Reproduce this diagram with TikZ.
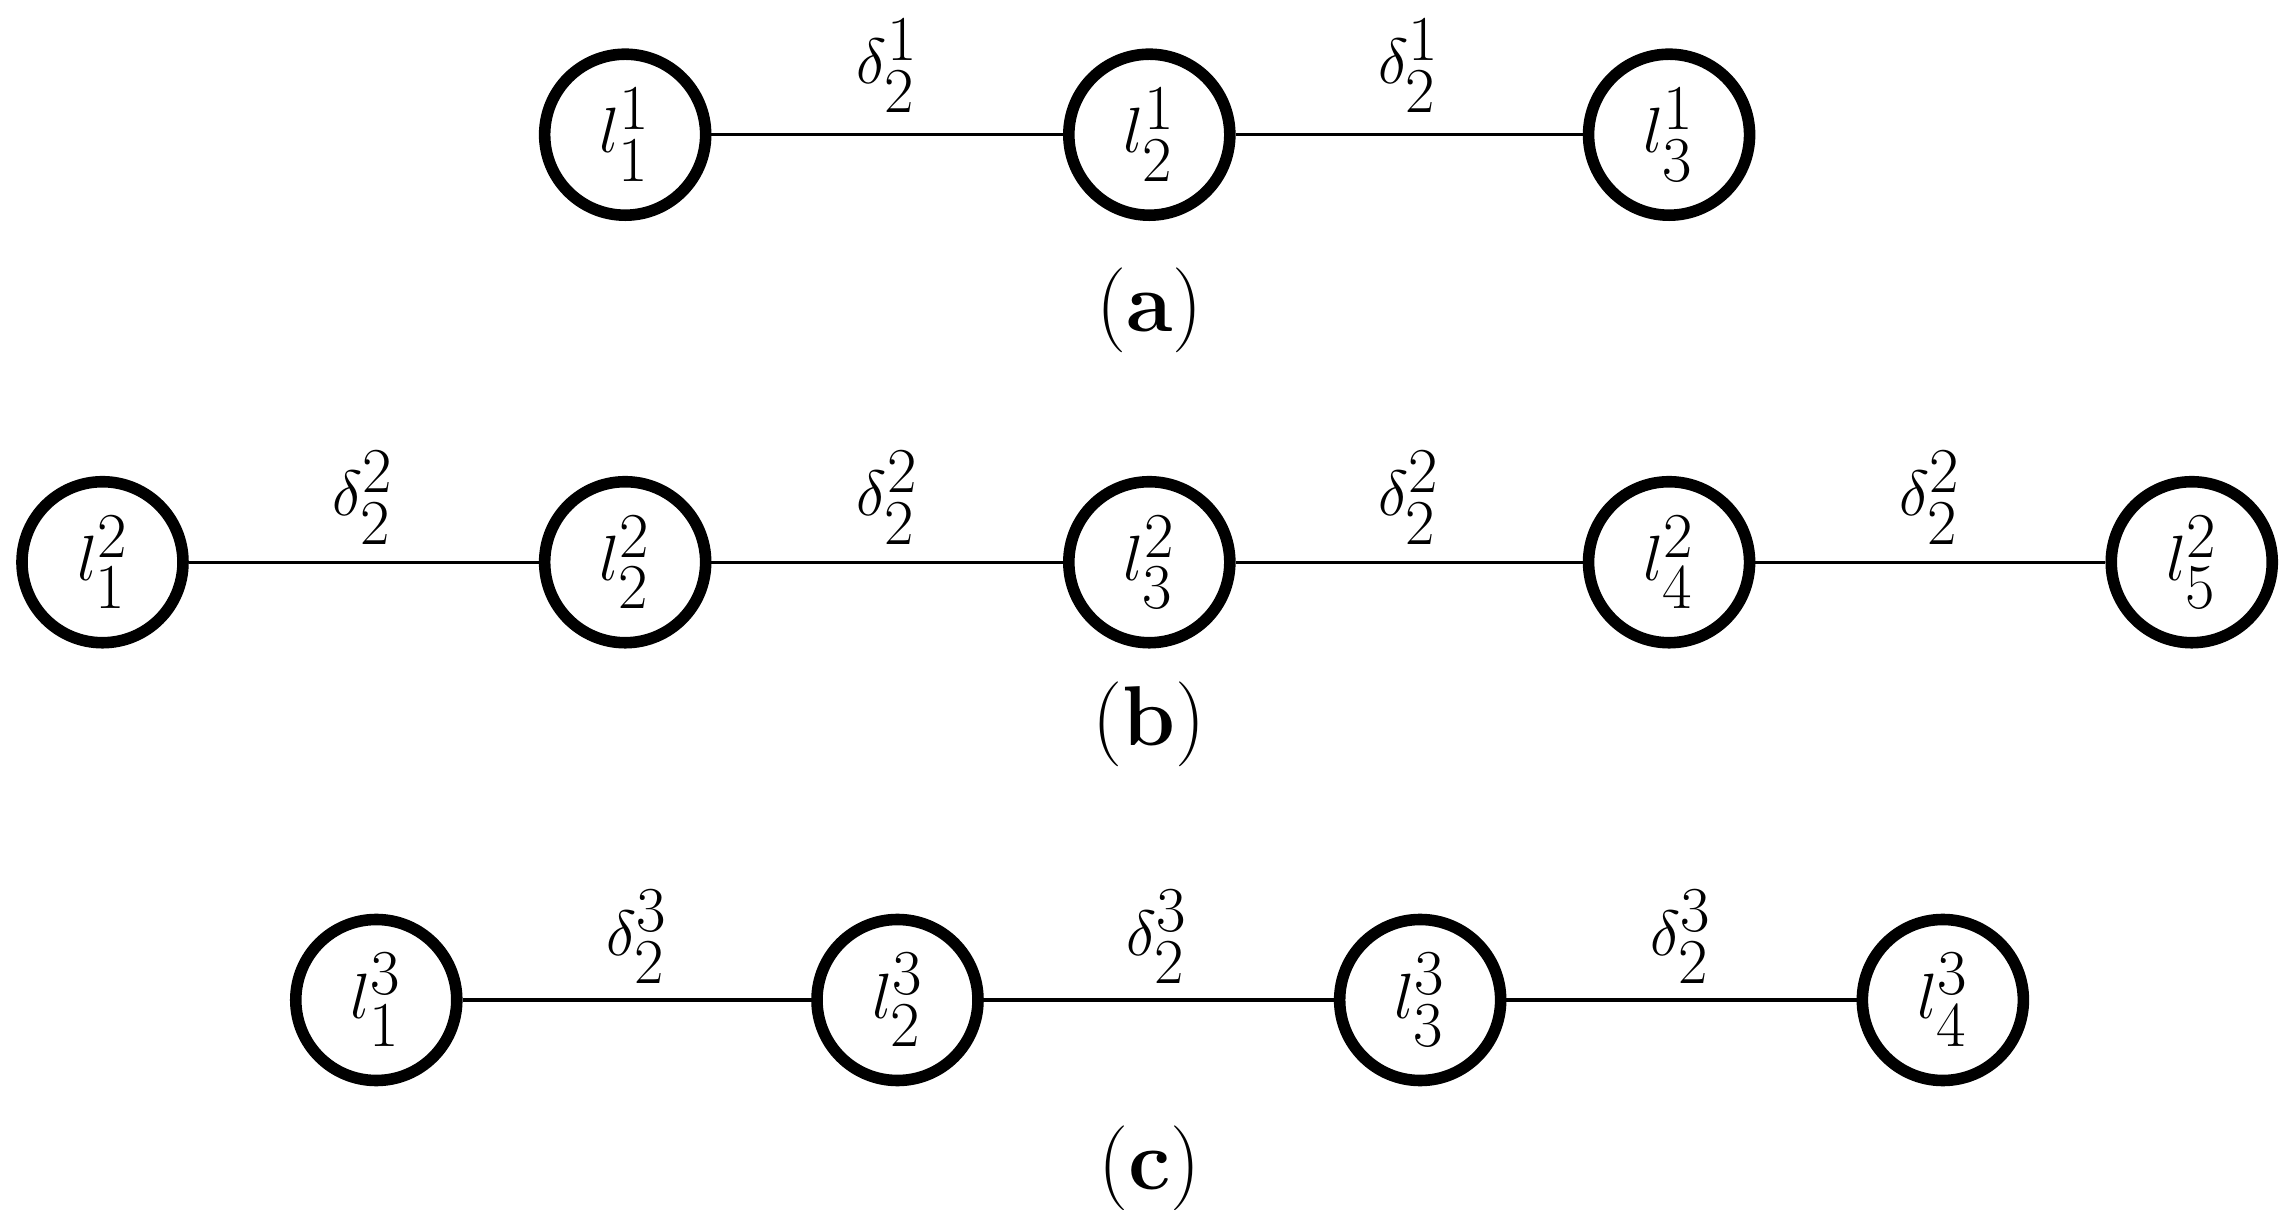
\documentclass[tikz,border=0pt]{standalone}
\usepackage{amsmath}
\begin{document}
\begin{tikzpicture}[x=0.02cm,y=-0.02cm,
  st/.style={circle,draw,line width=4.5pt,minimum size=2.2cm,inner sep=0pt,font=\fontsize{33}{38}\selectfont},
  lab/.style={font=\fontsize{33}{38}\selectfont},
  ed/.style={line width=1.2pt}]
\useasboundingbox (0,0) rectangle (1560,826);
% row a
\foreach \i/\x in {1/427,2/785,3/1140}{\node[st] (a\i) at (\x,92) {$l^1_{\i}$};}
\draw[ed] (a1)--(a2) (a2)--(a3);
\node[lab] (da1) at (606,45) {$\delta^1_2$};
\node[lab] (da2) at (962,45) {$\delta^1_2$};
\node[lab] (ca) at (785,212) {(\textbf{a})};
% row b
\foreach \i/\x in {1/70,2/427,3/785,4/1140,5/1497}{\node[st] (b\i) at (\x,384) {$l^2_{\i}$};}
\draw[ed] (b1)--(b2) (b2)--(b3) (b3)--(b4) (b4)--(b5);
\node[lab] (db1) at (248,340) {$\delta^2_2$};
\node[lab] (db2) at (606,340) {$\delta^2_2$};
\node[lab] (db3) at (962,340) {$\delta^2_2$};
\node[lab] (db4) at (1318,340) {$\delta^2_2$};
\node[lab] (cb) at (785,495) {(\textbf{b})};
% row c
\foreach \i/\x in {1/257,2/613,3/970,4/1327}{\node[st] (c\i) at (\x,683) {$l^3_{\i}$};}
\draw[ed] (c1)--(c2) (c2)--(c3) (c3)--(c4);
\node[lab] (dc1) at (435,640) {$\delta^3_2$};
\node[lab] (dc2) at (790,640) {$\delta^3_2$};
\node[lab] (dc3) at (1148,640) {$\delta^3_2$};
\node[lab] (cc) at (785,798) {(\textbf{c})};
\end{tikzpicture}
\end{document}
